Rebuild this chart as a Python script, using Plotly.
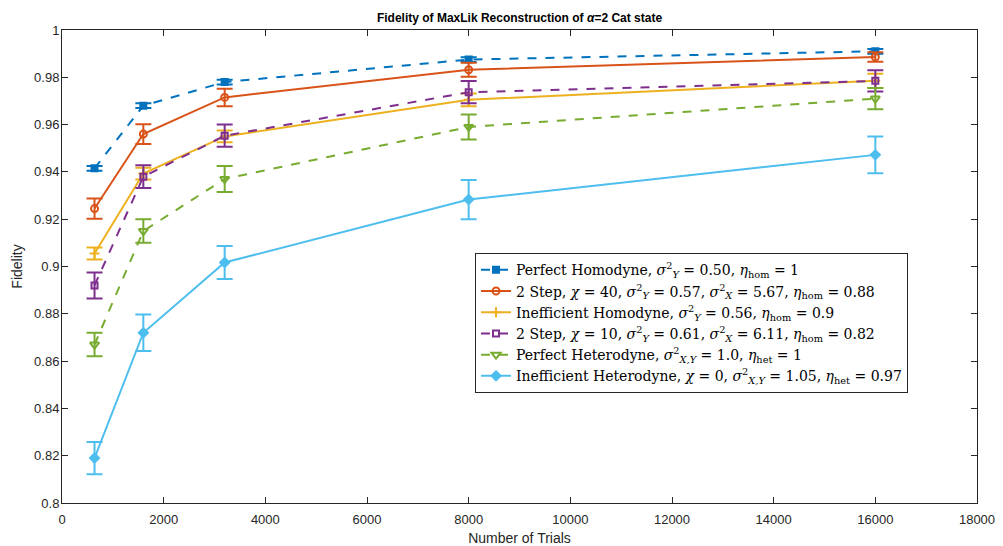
import plotly.graph_objects as go

trials = [640, 1600, 3200, 8000, 16000]

perfect_hom = [0.9415, 0.968, 0.978, 0.9875, 0.991]
perfect_hom_err = [0.001, 0.001, 0.001, 0.001, 0.001]
two_step_40 = [0.9245, 0.956, 0.9715, 0.9832, 0.9886]
two_step_40_err = [0.0043, 0.0042, 0.0037, 0.003, 0.002]
ineff_hom = [0.9055, 0.9393, 0.955, 0.9705, 0.9785]
ineff_hom_err = [0.0025, 0.0025, 0.0025, 0.0027, 0.003]
two_step_10 = [0.892, 0.938, 0.9553, 0.9737, 0.9785]
two_step_10_err = [0.0055, 0.0048, 0.0047, 0.0047, 0.0045]
perfect_het = [0.867, 0.915, 0.937, 0.959, 0.971]
perfect_het_err = [0.005, 0.005, 0.0055, 0.0053, 0.0045]
ineff_het = [0.819, 0.872, 0.9017, 0.9283, 0.9472]
ineff_het_err = [0.0068, 0.0077, 0.007, 0.0083, 0.0078]

names = [
    "Perfect Homodyne, <i>σ</i><sup>2</sup><sub><i>Y</i></sub> = 0.50, <i>η</i><sub>hom</sub> = 1",
    "2 Step, <i>χ</i> = 40, <i>σ</i><sup>2</sup><sub><i>Y</i></sub> = 0.57, <i>σ</i><sup>2</sup><sub><i>X</i></sub> = 5.67, <i>η</i><sub>hom</sub> = 0.88",
    "Inefficient Homodyne, <i>σ</i><sup>2</sup><sub><i>Y</i></sub> = 0.56, <i>η</i><sub>hom</sub> = 0.9",
    "2 Step, <i>χ</i> = 10, <i>σ</i><sup>2</sup><sub><i>Y</i></sub> = 0.61, <i>σ</i><sup>2</sup><sub><i>X</i></sub> = 6.11, <i>η</i><sub>hom</sub> = 0.82",
    "Perfect Heterodyne, <i>σ</i><sup>2</sup><sub><i>X,Y</i></sub> = 1.0, <i>η</i><sub>het</sub> = 1",
    "Inefficient Heterodyne, <i>χ</i> = 0, <i>σ</i><sup>2</sup><sub><i>X,Y</i></sub> = 1.05, <i>η</i><sub>het</sub> = 0.97",
]
series = [
    (perfect_hom, perfect_hom_err, "#0072BD", "dash", "square", 6),
    (two_step_40, two_step_40_err, "#D95319", "solid", "circle-open", 7),
    (ineff_hom, ineff_hom_err, "#EDB120", "solid", "cross-thin-open", 7),
    (two_step_10, two_step_10_err, "#7E2F8E", "dash", "square-open", 6),
    (perfect_het, perfect_het_err, "#77AC30", "dash", "triangle-down-open", 8),
    (ineff_het, ineff_het_err, "#4DBEEE", "solid", "diamond", 7),
]

fig = go.Figure()
for name, (y, e, c, dash, sym, ms) in zip(names, series):
    fig.add_trace(go.Scatter(
        x=trials, y=y, name=name, mode="lines+markers",
        line=dict(color=c, width=2, dash=dash),
        marker=dict(symbol=sym, size=ms, color=c, line=dict(color=c, width=2)),
        error_y=dict(type="data", array=e, visible=True, color=c, thickness=2, width=8),
    ))

axis_common = dict(
    showline=True, linecolor="#262626", linewidth=1, mirror="ticks",
    ticks="inside", ticklen=6, tickcolor="#262626", showgrid=False, zeroline=False,
    automargin=False,
    tickfont=dict(family="Liberation Sans, Arial", size=13, color="#262626"),
)
fig.update_xaxes(range=[0, 18000], dtick=2000, tickformat="d", ticklabelstandoff=4,
                 title=dict(text="Number of Trials", font=dict(family="Liberation Sans, Arial", size=14, color="#262626"), standoff=10),
                 **axis_common)
fig.update_yaxes(range=[0.8, 1], dtick=0.02, ticklabelstandoff=-1,
                 title=dict(text="Fidelity", font=dict(family="Liberation Sans, Arial", size=14, color="#262626"), standoff=8),
                 **axis_common)

# the page body adds an 8px offset, so the figure is 8px smaller on each axis
fig.update_layout(
    width=995, height=538,
    margin=dict(l=54, r=26, t=22, b=43, autoexpand=False),
    plot_bgcolor="white", paper_bgcolor="white",
    title=dict(text="<b>Fidelity of MaxLik Reconstruction of <i>α</i>=2 Cat state</b>",
               xref="paper", x=0.5, xanchor="center", y=0.981, yanchor="middle",
               font=dict(family="Liberation Sans, Arial", size=12, color="black")),
    legend=dict(x=0.4514, y=0.528, xanchor="left", yanchor="top",
                bgcolor="white", bordercolor="#262626", borderwidth=1,
                font=dict(family="DejaVu Serif, serif", size=14, color="black"),
                tracegroupgap=0, itemwidth=30),
    showlegend=True,
)

fig.write_html("out.html")
